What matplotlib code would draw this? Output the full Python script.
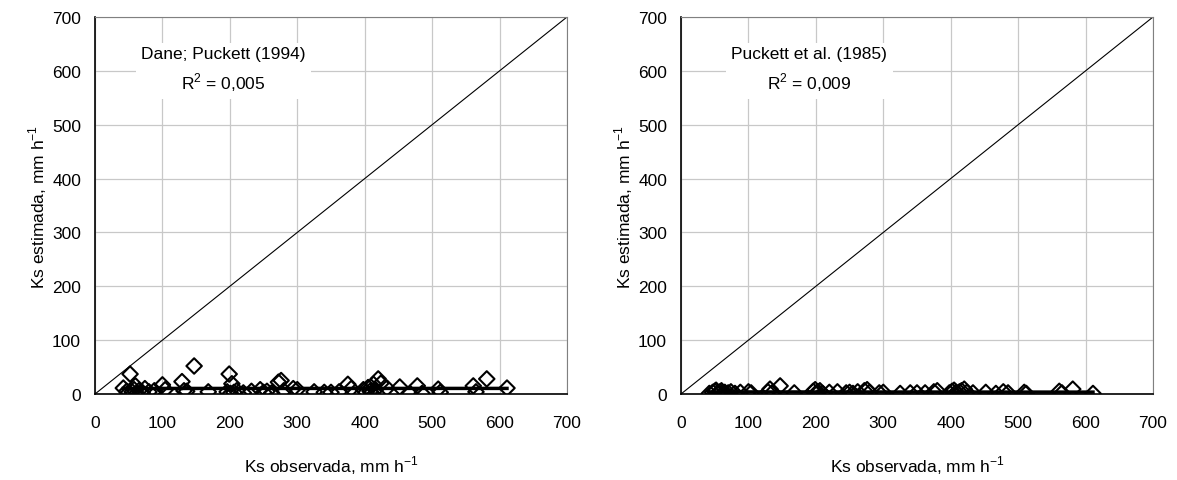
import numpy as np
import matplotlib.pyplot as plt

plt.rcParams['font.family'] = ['Liberation Sans', 'DejaVu Sans']
plt.rcParams['mathtext.fontset'] = 'custom'
plt.rcParams['mathtext.rm'] = 'Liberation Sans'

# Observed Ks (mm/h), shared by both panels
ks_obs = [42, 47, 50, 52, 55, 58, 60, 62, 65, 70,
          74, 80, 88, 100, 104, 129, 132, 136, 147, 168,
          196, 199, 201, 203, 206, 210, 220, 232, 245, 250,
          255, 262, 272, 276, 280, 294, 300, 325, 340, 350,
          362, 375, 380, 398, 402, 405, 408, 410, 413, 416,
          420, 424, 433, 452, 467, 478, 485, 509, 512, 561,
          565, 581, 611]

# Estimated Ks, Dane; Puckett (1994)
ks_dane = [11, 5, 3, 37, 4, 8, 15, 1, 6, 3,
           10, 4, 6, 17, 8, 23, 6, 5, 52, 4,
           4, 37, 1, 19, 3, 6, 2, 5, 8, 3,
           5, 2, 22, 25, 6, 10, 8, 4, 3, 3,
           4, 18, 10, 8, 3, 12, 5, 2, 18, 8,
           28, 20, 11, 13, 1, 15, 1, 9, 3, 15,
           4, 28, 11]

# Estimated Ks, Puckett et al. (1985)
ks_puckett = [1, 3, 5, 7, 2, 4, 6, 0, 3, 2,
              4, 1, 3, 4, 2, 4, 9, 3, 15, 2,
              5, 8, 2, 4, 6, 1, 3, 4, 2, 3,
              1, 4, 6, 8, 3, 2, 3, 1, 2, 2,
              2, 4, 6, 2, 5, 7, 3, 1, 4, 6,
              9, 3, 2, 3, 1, 4, 2, 3, 1, 5,
              2, 9, 1]

panels = [("Dane; Puckett (1994)", "0,005", ks_dane),
          ("Puckett et al. (1985)", "0,009", ks_puckett)]

fs = 12.5
fig = plt.figure(figsize=(11.77, 4.81), dpi=100)
lefts = [95 / 1177, 681 / 1177]
x = np.array(ks_obs, dtype=float)

for left, (name, r2, est) in zip(lefts, panels):
    ax = fig.add_axes([left, 86 / 481, 472 / 1177, 377 / 481])
    y = np.array(est, dtype=float)

    # 1:1 line
    ax.plot([0, 700], [0, 700], color='black', lw=0.8, zorder=2)

    ax.scatter(x, y, marker='D', s=62, facecolors='none', edgecolors='black',
               linewidths=1.5, zorder=3)

    # linear fit
    a, b = np.polyfit(x, y, 1)
    xf = np.array([x.min(), x.max()])
    ax.plot(xf, a * xf + b, color='black', lw=2.5, zorder=4)

    ax.set_xlim(0, 700)
    ax.set_ylim(0, 700)
    ax.set_xticks(range(0, 701, 100))
    ax.set_yticks(range(0, 701, 100))
    ax.grid(True, color='#c8c8c8', lw=0.9)
    ax.set_axisbelow(True)
    for s in ['top', 'right']:
        ax.spines[s].set_color('#808080')
    for s in ['left', 'bottom']:
        ax.spines[s].set_color('black')
        ax.spines[s].set_linewidth(1.2)
    ax.tick_params(axis='x', length=0, labelsize=fs, pad=15)
    ax.tick_params(axis='y', length=0, labelsize=fs, pad=10)

    ax.set_xlabel(r'Ks observada, mm h$^{-1}$', fontsize=fs, labelpad=17)
    ax.set_ylabel(r'Ks estimada, mm h$^{-1}$', fontsize=fs)
    ax.yaxis.set_label_coords(-0.097, 0.5)

    ax.text(0.272, 0.86, name + '\n' + r'R$^2$ = ' + r2, transform=ax.transAxes,
            ha='center', va='center', fontsize=fs, linespacing=1.5,
            bbox=dict(facecolor='white', edgecolor='none', pad=4), zorder=5)

fig.savefig('out.png', dpi=100)
